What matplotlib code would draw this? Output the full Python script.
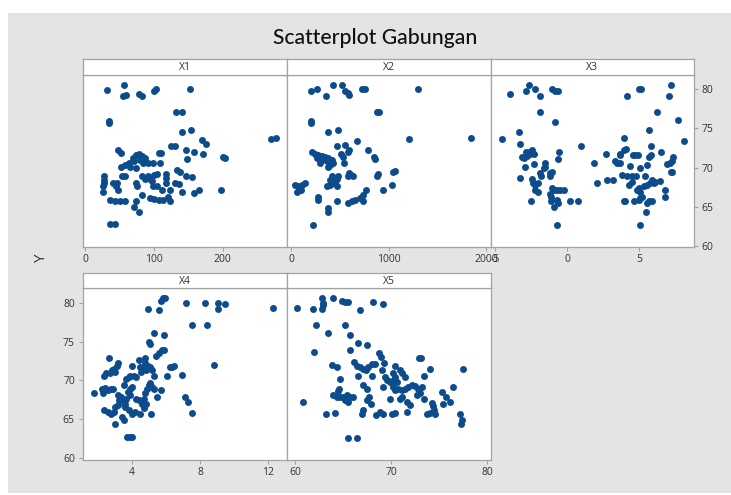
import matplotlib
matplotlib.use("Agg")
import matplotlib.pyplot as plt
from matplotlib.patches import Rectangle

plt.rcParams['font.family'] = ['Open Sans', 'DejaVu Sans']

# ---------------- data ----------------
title_text = "Scatterplot Gabungan"
y_label = "Y"
panel_names = ["X1", "X2", "X3", "X4", "X5"]
y_ticks = [60, 65, 70, 75, 80]
x_ticks = {"X1": [0, 100, 200], "X2": [0, 1000, 2000], "X3": [-5, 0, 5],
           "X4": [4, 8, 12], "X5": [60, 70, 80]}

x1 = [32,56,55,59,78,82,100,103,152,132,141,34,35,141,154,170,176,270,277,125,130,147,158,171,148,200,204,48,52,107,111,
      69,74,78,83,87,71,79,84,52,58,64,65,74,92,99,109,134,138,147,155,83,87,91,94,100,104,97,118,118,27,27,27,26,26,
      41,45,48,46,74,75,58,53,99,105,112,117,124,131,137,141,158,165,197,36,43,51,58,74,82,94,100,107,113,120,124,71,78,36,44]
y1 = [79.9,80.6,79.1,79.3,79.4,79.2,79.8,80.0,80.0,77.1,77.1,76.0,75.7,74.6,74.8,73.5,73.0,73.6,73.8,72.8,72.8,72.3,72.0,71.7,71.1,71.4,71.2,72.2,71.9,71.9,71.9,
      71.2,71.6,71.7,71.5,71.2,70.8,71.0,70.6,70.1,70.4,70.6,70.1,70.0,70.6,70.6,70.6,69.7,69.5,68.9,68.8,68.9,68.6,68.9,68.6,69.1,69.2,68.3,69.2,68.7,68.9,68.4,68.0,67.6,66.9,
      68.0,67.6,67.2,68.0,68.0,67.6,68.9,68.9,67.7,67.6,67.2,68.0,67.2,68.0,67.9,66.9,66.8,67.2,67.2,65.9,65.8,65.7,65.8,65.7,66.5,66.1,66.0,65.9,65.9,66.3,65.7,65.0,64.4,62.8,62.8]

x2 = [202,263,434,527,554,588,598,359,725,759,1299,879,903,202,202,383,479,674,1210,1846,468,554,598,581,786,513,537,855,862,547,
      212,246,280,315,349,383,417,270,315,366,400,434,383,297,
      615,639,588,595,879,896,1043,1067,
      417,434,451,400,468,485,427,468,366,400,
      41,75,109,144,58,99,
      947,1039,
      274,274,468,383,383,
      588,622,656,708,742,769,735,
      229]
y2 = [79.8,80.0,80.6,80.6,79.8,79.5,79.3,79.1,80.0,80.0,80.1,77.1,77.1,76.0,75.7,74.6,74.8,73.4,73.7,73.8,72.8,72.9,72.3,72.0,72.3,71.7,71.4,71.3,71.1,70.6,
      72.0,71.8,71.6,71.5,71.4,71.2,71.0,71.2,71.0,70.8,70.3,70.6,70.1,70.6,
      69.1,68.9,68.9,69.3,68.9,69.2,69.4,69.6,
      68.9,68.6,68.2,68.4,68.6,68.9,68.0,67.7,67.6,67.8,
      67.8,67.6,67.8,68.0,66.9,67.2,
      67.2,67.8,
      66.3,65.9,65.7,64.8,64.4,
      65.5,65.7,65.9,66.1,66.5,67.1,65.8,
      62.7]

x3 = [-4.5,-3.97,-2.66,-2.82,-2.19,-1.85,-1.89,-1.04,-0.81,-0.62,-0.81,-3.35,-3.23,0.97,-0.58,-0.65,
      -3.12,-3.0,-2.77,-2.66,-2.54,-2.42,-2.31,-2.84,
      -2.89,-2.26,-3.23,
      -1.50,-1.50,-1.62,
      -1.89,-1.80,-1.15,-1.04,-1.20,
      -2.42,-2.36,-2.19,-2.03,-2.19,-2.03,
      -2.49,
      -1.04,-1.15,-1.11,-0.88,-0.69,-0.46,-0.23,
      -1.11,-0.92,-0.69,-0.65,
      0.18,0.74,
      -0.69,
      4.16,4.97,5.15,7.23,7.04,6.24,7.69,5.66,8.08,3.93,5.84,3.93,4.09,6.51,3.70,3.65,2.70,
      4.55,4.73,4.90,5.66,5.82,
      3.35,3.46,3.70,1.85,
      4.34,5.03,5.54,
      7.32,7.27,7.16,6.93,
      2.08,2.77,3.19,
      3.81,4.16,4.50,4.80,5.38,
      4.27,4.50,
      4.85,4.97,5.08,5.31,5.54,5.77,5.89,6.00,6.12,6.47,
      6.81,6.81,
      7.23,7.27,
      3.93,4.0,
      4.62,4.97,5.08,5.20,
      5.54,5.66,5.89,
      5.50,
      5.08]
y3 = [73.6,79.4,80.6,79.8,80.0,79.1,77.1,80.0,79.8,79.8,75.8,74.6,73.0,72.8,72.0,71.1,
      71.4,71.2,71.5,72.0,71.8,72.3,71.7,72.0,
      70.1,70.5,68.7,
      70.6,70.1,69.9,
      69.3,68.9,69.3,69.5,68.9,
      68.6,68.1,67.8,68.0,67.2,66.9,
      65.8,
      67.4,66.7,66.3,67.2,67.2,67.1,67.2,
      65.7,65.0,65.9,65.5,
      65.8,65.8,
      62.7,
      79.1,80.0,80.0,80.6,79.2,77.1,76.1,74.8,73.4,73.8,72.8,72.3,72.4,72.0,71.8,71.6,71.7,
      71.6,71.6,71.6,71.4,71.6,
      70.9,70.6,70.6,70.55,
      70.2,70.0,70.3,
      71.3,70.8,70.6,70.5,
      68.1,68.4,68.4,
      69.1,68.9,68.9,68.9,68.9,
      67.8,68.2,
      67.2,67.4,66.9,67.6,67.8,68.0,68.4,68.0,68.2,68.3,
      67.2,66.3,
      69.4,69.4,
      65.8,65.7,
      65.7,65.9,66.1,66.3,
      65.5,65.7,65.7,
      64.3,
      62.7]

x4 = [1.78,2.63,
      2.33,2.49,2.69,2.82,2.92,3.12,3.16,3.02,
      2.24,2.43,2.57,2.73,2.88,2.29,
      2.37,2.57,2.73,2.92,3.02,3.16,3.22,3.16,3.35,3.51,3.61,3.41,3.51,3.02,
      3.71,3.86,4.0,
      3.67,3.80,3.90,4.10,4.25,4.0,3.86,3.55,3.75,3.90,3.67,3.61,3.80,4.0,4.20,
      4.0,4.39,4.49,4.53,4.69,4.78,4.84,
      4.78,
      4.25,4.39,4.59,4.69,4.78,4.88,4.98,5.08,5.18,5.27,4.84,4.69,
      4.49,5.12,
      4.94,5.04,5.18,5.27,
      4.98,5.08,
      5.31,
      5.43,5.57,5.76,5.86,
      5.90,
      5.73,5.47,
      6.06,6.22,6.35,6.45,
      6.94,
      4.92,5.57,5.71,5.82,5.96,
      7.18,
      7.53,8.41,
      8.27,
      9.04,9.04,9.49,
      8.80,
      7.14,7.27,7.53,
      12.33]
y4 = [68.4,72.9,
      70.6,70.9,70.9,71.3,71.5,71.8,72.2,71.1,
      68.9,69.0,68.7,68.9,68.9,68.4,
      66.1,65.9,65.6,65.9,66.5,66.8,67.4,68.1,67.9,67.2,66.6,65.3,64.9,64.3,
      62.7,62.7,62.7,
      70.2,70.4,70.6,70.6,70.4,69.1,68.9,69.4,68.5,68.1,67.6,67.0,66.1,65.7,65.9,
      71.9,72.6,71.7,71.1,71.7,72.2,71.3,
      72.9,
      67.6,67.4,67.0,67.6,68.3,68.9,69.4,69.6,69.1,68.9,66.9,66.4,
      65.7,65.6,
      71.9,71.7,71.3,70.6,
      74.9,74.7,
      76.1,
      73.2,73.5,73.9,73.9,
      75.8,
      68.7,67.9,
      70.6,71.7,71.7,71.8,
      70.7,
      79.2,79.1,80.3,80.6,80.7,
      80.0,
      77.1,77.1,
      80.0,
      80.0,79.2,79.9,
      72.0,
      67.9,67.2,65.8,
      79.4]

x5 = [60.17,62.77,62.95,62.88,62.77,61.91,63.99,64.85,65.20,65.55,66.76,68.15,69.19,
      62.18,65.20,63.47,65.72,66.52,67.45,61.98,65.72,68.77,68.91,
      63.81,64.40,
      66.14,66.41,66.76,67.11,67.38,67.63,
      67.97,68.32,69.29,70.40,72.93,73.07,74.04,73.41,77.50,
      64.68,66.52,67.97,
      69.01,69.36,69.53,69.88,70.23,70.40,70.57,70.92,71.09,71.44,
      67.04,67.45,69.19,
      70.05,70.23,70.40,70.75,71.09,71.44,71.79,72.13,72.48,72.82,73.17,73.0,72.65,
      64.61,64.51,63.99,64.33,64.68,65.03,65.37,65.72,66.0,65.20,65.55,
      60.80,
      67.73,67.87,67.52,
      69.88,70.92,71.09,71.61,71.96,73.41,
      74.21,74.38,74.45,
      75.25,75.70,75.42,76.12,76.40,
      63.22,64.16,
      66.93,67.11,
      68.42,68.84,69.19,
      70.05,70.40,
      71.68,
      73.69,74.04,74.56,
      77.16,77.33,77.26,
      65.55,66.41]
y5 = [79.4,80.7,80.0,79.7,79.2,79.2,80.7,80.3,80.1,80.1,79.1,80.1,79.9,
      77.2,77.2,76.1,75.8,74.8,74.6,73.7,73.9,73.5,73.0,
      72.0,71.7,
      72.4,71.9,71.7,71.5,71.3,71.7,
      72.1,72.1,72.2,71.8,72.9,72.9,71.4,70.6,71.4,
      70.2,70.5,70.5,
      71.3,70.4,70.0,69.8,70.9,70.4,69.8,71.3,70.9,70.4,
      69.4,68.9,69.1,
      69.9,69.1,68.7,68.9,68.7,68.9,69.1,69.4,69.2,68.9,69.1,68.3,68.1,
      68.9,68.6,68.1,67.8,67.8,67.8,68.1,67.8,67.9,67.4,67.2,
      67.2,
      67.9,66.9,67.4,
      67.6,67.6,67.9,67.2,66.8,67.6,
      67.1,66.7,66.1,
      68.5,67.9,67.0,67.2,69.1,
      65.6,65.8,
      65.7,66.1,
      65.5,65.9,65.7,
      65.6,65.8,
      65.9,
      65.6,65.8,65.6,
      65.6,64.9,64.3,
      62.6,62.6]

series = {"X1": (x1, y1), "X2": (x2, y2), "X3": (x3, y3), "X4": (x4, y4), "X5": (x5, y5)}

# ---------------- layout ----------------
W, H = 731, 495
fig = plt.figure(figsize=(W / 100, H / 100), dpi=100)
fig.patch.set_facecolor("white")
BG = "#e4e4e4"
bg = Rectangle((8 / W, 2 / H), 1 - 8 / W, 480 / H, transform=fig.transFigure,
               facecolor=BG, edgecolor="none", zorder=-10)
fig.patches.append(bg)

FRAME = "#a3a3a3"
TXT = "#333333"
DOT = "#0c4c8c"

# plot-area boxes (left, top, right, bottom) in pixels, header heights, x limits, y-tick side
layout = {
    "X1": ((82.5, 75, 286.5, 247), 16, (-4, 293), None),
    "X2": ((286.5, 75, 490.5, 247), 16, (-46, 2046), None),
    "X3": ((490.5, 75, 693.5, 247), 16, (-5.3, 8.76), "right"),
    "X4": ((82.5, 288, 286.5, 460), 15, (1.08, 13.1), "left"),
    "X5": ((286.5, 288, 490.5, 460), 15, (59.12, 80.33), None),
}
ylims = {"row1": (59.87, 81.83), "row2": (59.7, 81.93)}

for name in panel_names:
    (l, t, r, b), hh, xl, yside = layout[name]
    ax = fig.add_axes([l / W, (H - b) / H, (r - l) / W, (b - t) / H])
    hax = fig.add_axes([l / W, (H - t) / H, (r - l) / W, hh / H])
    ax.set_zorder(1)
    hax.set_zorder(1)
    xs, ys = series[name]
    ax.scatter(xs, ys, s=25, color=DOT, linewidths=0, zorder=3)
    ax.set_xlim(*xl)
    ax.set_ylim(*(ylims["row1"] if name in ("X1", "X2", "X3") else ylims["row2"]))
    ax.set_facecolor("white")
    for sp in ax.spines.values():
        sp.set_color(FRAME)
        sp.set_linewidth(0.9)
    ax.set_xticks(x_ticks[name])
    ax.set_xticklabels([str(v) for v in x_ticks[name]])
    ax.tick_params(axis="x", direction="out", length=3, width=0.8, color=FRAME,
                   labelsize=7.5, labelcolor=TXT, pad=2)
    ax.set_yticks(y_ticks)
    if yside == "right":
        ax.tick_params(axis="y", direction="out", length=3, width=0.8, color=FRAME,
                       labelsize=7.5, labelcolor=TXT, pad=2.5, left=False, right=True,
                       labelleft=False, labelright=True)
    elif yside == "left":
        ax.tick_params(axis="y", direction="out", length=3, width=0.8, color=FRAME,
                       labelsize=7.5, labelcolor=TXT, pad=2.5)
    else:
        ax.tick_params(axis="y", left=False, right=False, labelleft=False, labelright=False)
    # header strip
    hax.set_facecolor("white")
    hax.set_xticks([])
    hax.set_yticks([])
    for sp in hax.spines.values():
        sp.set_color(FRAME)
        sp.set_linewidth(0.9)
    hax.text(0.5, 0.45, name, ha="center", va="center", fontsize=7.5, color=TXT,
             transform=hax.transAxes)

ttl = fig.text(375.5 / W, 1 - 37.5 / H, title_text, ha="center", va="center",
               fontsize=16, color="#111111", fontweight="medium",
               family=["Lato", "DejaVu Sans"])
fig.canvas.draw()
tw = ttl.get_window_extent().width
ttl.set_fontsize(16 * 203.0 / tw)
fig.text(42 / W, 1 - 259 / H, y_label, ha="center", va="center", rotation=90,
         fontsize=11, color=TXT)

fig.savefig("out.png", dpi=100, facecolor="white")
